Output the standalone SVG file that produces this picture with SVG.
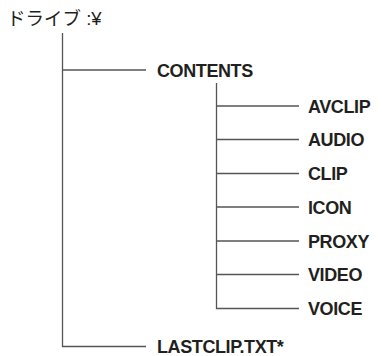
<svg xmlns="http://www.w3.org/2000/svg" width="382" height="356" viewBox="0 0 382 356">
<style>
.l{stroke:#555;stroke-width:1.3;fill:none}
.t{font-family:"Liberation Sans",Arial,sans-serif;font-weight:bold;font-size:18px;letter-spacing:-0.4px;fill:#231f20}
.j{font-family:"Liberation Sans","Noto Sans CJK JP",sans-serif;font-size:18.5px;fill:#231f20}
</style>
<rect width="382" height="356" fill="#fff"/>
<g id="connectors">
<path class="l" d="M62.5 33V346.5H146M62.5 70H146"/>
<path class="l" d="M216.5 83V308.5H299M216.5 106H299M216.5 139.5H299M216.5 173.5H299M216.5 207H299M216.5 241H299M216.5 274.5H299"/>
</g>
<g id="root"><text class="j" x="7" y="25">ドライブ :¥</text></g>
<g id="contents"><text class="t" x="157" y="76.5">CONTENTS</text></g>
<g id="avclip"><text class="t" x="308" y="112.5">AVCLIP</text></g>
<g id="audio"><text class="t" x="308" y="146">AUDIO</text></g>
<g id="clip"><text class="t" x="308" y="180">CLIP</text></g>
<g id="icon"><text class="t" x="308" y="213.5">ICON</text></g>
<g id="proxy"><text class="t" x="308" y="247.5">PROXY</text></g>
<g id="video"><text class="t" x="308" y="281">VIDEO</text></g>
<g id="voice"><text class="t" x="308" y="315">VOICE</text></g>
<g id="lastclip"><text class="t" x="157" y="352.5">LASTCLIP.TXT*</text></g>
</svg>
